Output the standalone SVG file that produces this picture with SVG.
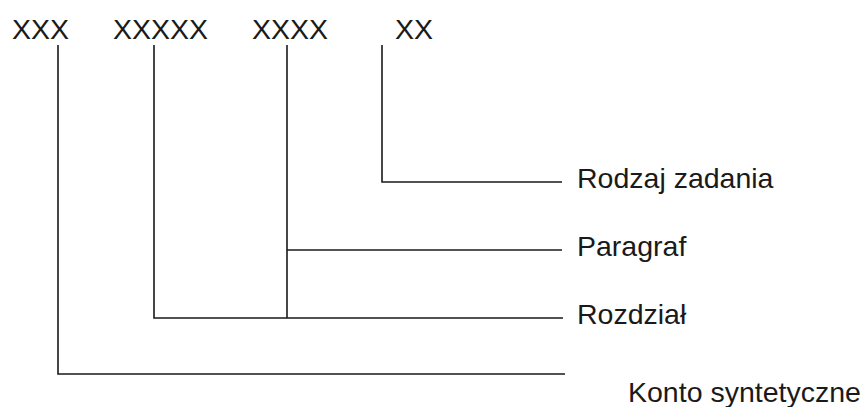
<svg xmlns="http://www.w3.org/2000/svg" width="862" height="407" viewBox="0 0 862 407">
<style>
.t{font-family:"Liberation Sans",Arial,sans-serif;font-size:28.5px;fill:#1a1a1a}
.c{stroke:#1a1a1a;stroke-width:1.6;fill:none}
</style>
<rect width="862" height="407" fill="#ffffff"/>
<g id="connectors">
<polyline class="c" points="58,45 58,374 565,374"/>
<polyline class="c" points="154,45 154,318 563,318"/>
<line class="c" x1="287" y1="45" x2="287" y2="318"/>
<line class="c" x1="287" y1="250" x2="562" y2="250"/>
<polyline class="c" points="382,45 382,182 562,182"/>
</g>
<g id="n-xxx"><text class="t" x="12" y="39">XXX</text></g>
<g id="n-xxxxx"><text class="t" x="113" y="39">XXXXX</text></g>
<g id="n-xxxx"><text class="t" x="252" y="39">XXXX</text></g>
<g id="n-xx"><text class="t" x="395" y="39">XX</text></g>
<g id="n-rodzaj"><text class="t" x="577" y="188">Rodzaj zadania</text></g>
<g id="n-paragraf"><text class="t" x="577" y="256">Paragraf</text></g>
<g id="n-rozdzial"><text class="t" x="577" y="324">Rozdział</text></g>
<g id="n-konto"><text class="t" x="628" y="402">Konto syntetyczne</text></g>
</svg>
